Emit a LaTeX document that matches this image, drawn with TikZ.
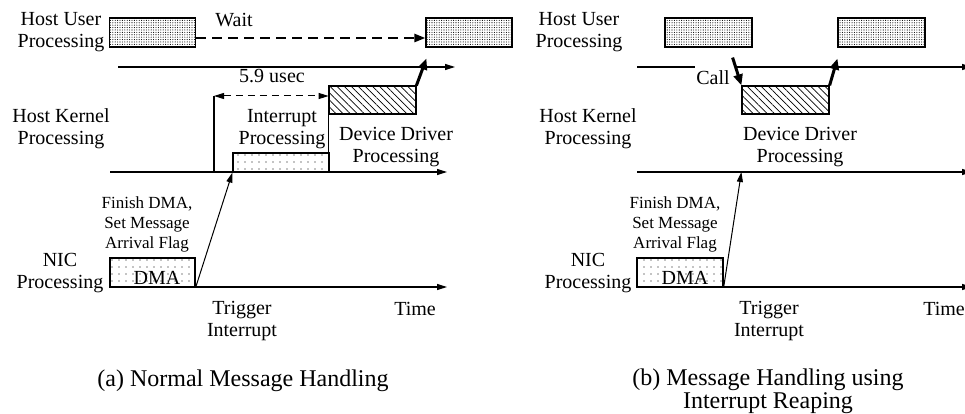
\documentclass[tikz,border=0pt]{standalone}
\usepackage{fontspec}
\setmainfont{Liberation Serif}
\usetikzlibrary{arrows.meta,patterns.meta,calc}
\begin{document}
\begin{tikzpicture}[x=1pt,y=-1pt,
  lbl/.style={font=\fontsize{20}{22}\selectfont, inner sep=0pt, align=center},
  smalllbl/.style={font=\fontsize{17}{20}\selectfont, inner sep=0pt, align=center},
  caplbl/.style={font=\fontsize{24}{23}\selectfont, inner sep=0pt, align=center},
  userbox/.style={draw, line width=1.2pt, minimum width=86pt, minimum height=29pt, inner sep=0pt,
    pattern={Dots[distance=2.4pt,radius=0.55pt]}},
  ddbox/.style={draw, line width=1.2pt, minimum width=87pt, minimum height=28pt, inner sep=0pt,
    pattern={Lines[angle=-45,distance=5pt,line width=0.7pt]}},
  sparsebox/.style={draw, line width=1.2pt, inner sep=0pt,
    pattern={Dots[distance=7pt,radius=0.6pt]}},
  tl/.style={line width=1.2pt, -{Triangle[length=10pt,width=6pt]}},
  plainline/.style={line width=1.2pt},
  thinarrow/.style={line width=1pt, -{Triangle[length=10pt,width=6pt]}},
  thickarrow/.style={line width=3pt, -{Triangle[length=11pt,width=9pt]}},
  waitarrow/.style={line width=2.4pt, dash pattern=on 10pt off 6pt, -{Triangle[length=11pt,width=8pt]}},
  dblarrow/.style={line width=1pt, dash pattern=on 7pt off 5pt, {Triangle[length=10pt,width=6pt]}-{Triangle[length=10pt,width=6pt]}}
]
\useasboundingbox (0,0) rectangle (965,414);

% ---------------- (a) ----------------
\node[userbox] (lu1) at (152.5,32.5) {};
\node[userbox] (lu2) at (469,32.5) {};
\node[lbl] (lhu) at (61,32.5) {Host User\\Processing};
\draw[waitarrow] ([yshift=-5.5pt]lu1.east) -- ([yshift=-5.5pt]lu2.west);
\node[lbl,anchor=base] (lwait) at (234,27) {Wait};

\coordinate (lut0) at (118,67);
\coordinate (lut1) at (455,67);
\draw[tl] (lut0) -- (lut1);

\node[ddbox] (ldd) at (372.5,100) {};
\node[sparsebox, minimum width=96pt, minimum height=19pt] (lint) at (281,162.5) {};
\coordinate (lkt0) at (110,172);
\coordinate (lkt1) at (447,172);
\draw[tl] (lkt0) -- (lkt1);
\coordinate (lm) at (214,96);
\draw[plainline] (lm) -- (lm |- lkt0);
\draw[plainline] (ldd.south west) -- (ldd.south west |- lkt0);
\draw[dblarrow] (lm) -- (lm -| ldd.west);
\node[lbl,anchor=base] (l59) at (272,83) {5.9 usec};
\draw[thickarrow] (ldd.north east) -- ([xshift=1pt,yshift=-11pt]lu2.south west);

\node[lbl] (lhk) at (61,129) {Host Kernel\\Processing};
\node[lbl] (lip) at (282,129) {Interrupt\\Processing};
\node[lbl] (ldp) at (396,147) {Device Driver\\Processing};

\node[sparsebox, minimum width=85pt, minimum height=29pt] (ldma) at (152.5,272.5) {};
\node[lbl,anchor=base] (ldmat) at (157,284) {DMA};
\coordinate (lnt0) at (110,287);
\coordinate (lnt1) at (447,287);
\draw[tl] (lnt0) -- (lnt1);
\draw[thinarrow] (ldma.south east) -- (lint.south west);
\node[smalllbl] (lfin) at (147,224) {Finish DMA,\\Set Message\\Arrival Flag};
\node[lbl] (lnic) at (60,273) {NIC\\Processing};
\node[lbl] (ltrig) at (242,321.5) {Trigger\\Interrupt};
\node[lbl,anchor=base] (ltime) at (415,315) {Time};
\node[caplbl,anchor=base] (lcap) at (243,386) {(a) Normal Message Handling};

% ---------------- (b) ----------------
\node[userbox, minimum width=87pt] (ru1) at (708.5,32.5) {};
\node[userbox, minimum width=87pt] (ru2) at (881.5,32.5) {};
\node[lbl] (rhu) at (579,32.5) {Host User\\Processing};

\coordinate (rut0) at (637,67);
\coordinate (rutg0) at (695,67);
\coordinate (rutg1) at (737,67);
\coordinate (rut1) at (972,67);
\draw[plainline] (rut0) -- (rutg0);
\draw[tl] (rutg1) -- (rut1);

\node[ddbox] (rdd) at (785.5,100) {};
\draw[thickarrow] ([xshift=-20pt,yshift=-10pt]ru1.south east) -- (rdd.north west);
\draw[thickarrow] (rdd.north east) -- ([yshift=-11pt]ru2.south west);
\node[lbl,anchor=base] (rcall) at (713,85) {Call};

\node[lbl] (rhk) at (588,129) {Host Kernel\\Processing};
\node[lbl] (rdp) at (800,147) {Device Driver\\Processing};
\coordinate (rkt0) at (637,172);
\coordinate (rkt1) at (972,172);
\draw[tl] (rkt0) -- (rkt1);

\node[sparsebox, minimum width=86pt, minimum height=29pt] (rdma) at (680,272.5) {};
\node[lbl,anchor=base] (rdmat) at (685,284) {DMA};
\coordinate (rnt0) at (637,287);
\coordinate (rnt1) at (972,287);
\draw[tl] (rnt0) -- (rnt1);
\draw[thinarrow] (rdma.south east) -- (rdd.south west |- rkt0);
\node[smalllbl] (rfin) at (675,224) {Finish DMA,\\Set Message\\Arrival Flag};
\node[lbl] (rnic) at (588,273) {NIC\\Processing};
\node[lbl] (rtrig) at (769,321.5) {Trigger\\Interrupt};
\node[lbl,anchor=base] (rtime) at (944,315) {Time};
\node[caplbl] (rcap) at (768,391.5) {(b) Message Handling using\\Interrupt Reaping};
\end{tikzpicture}
\end{document}
